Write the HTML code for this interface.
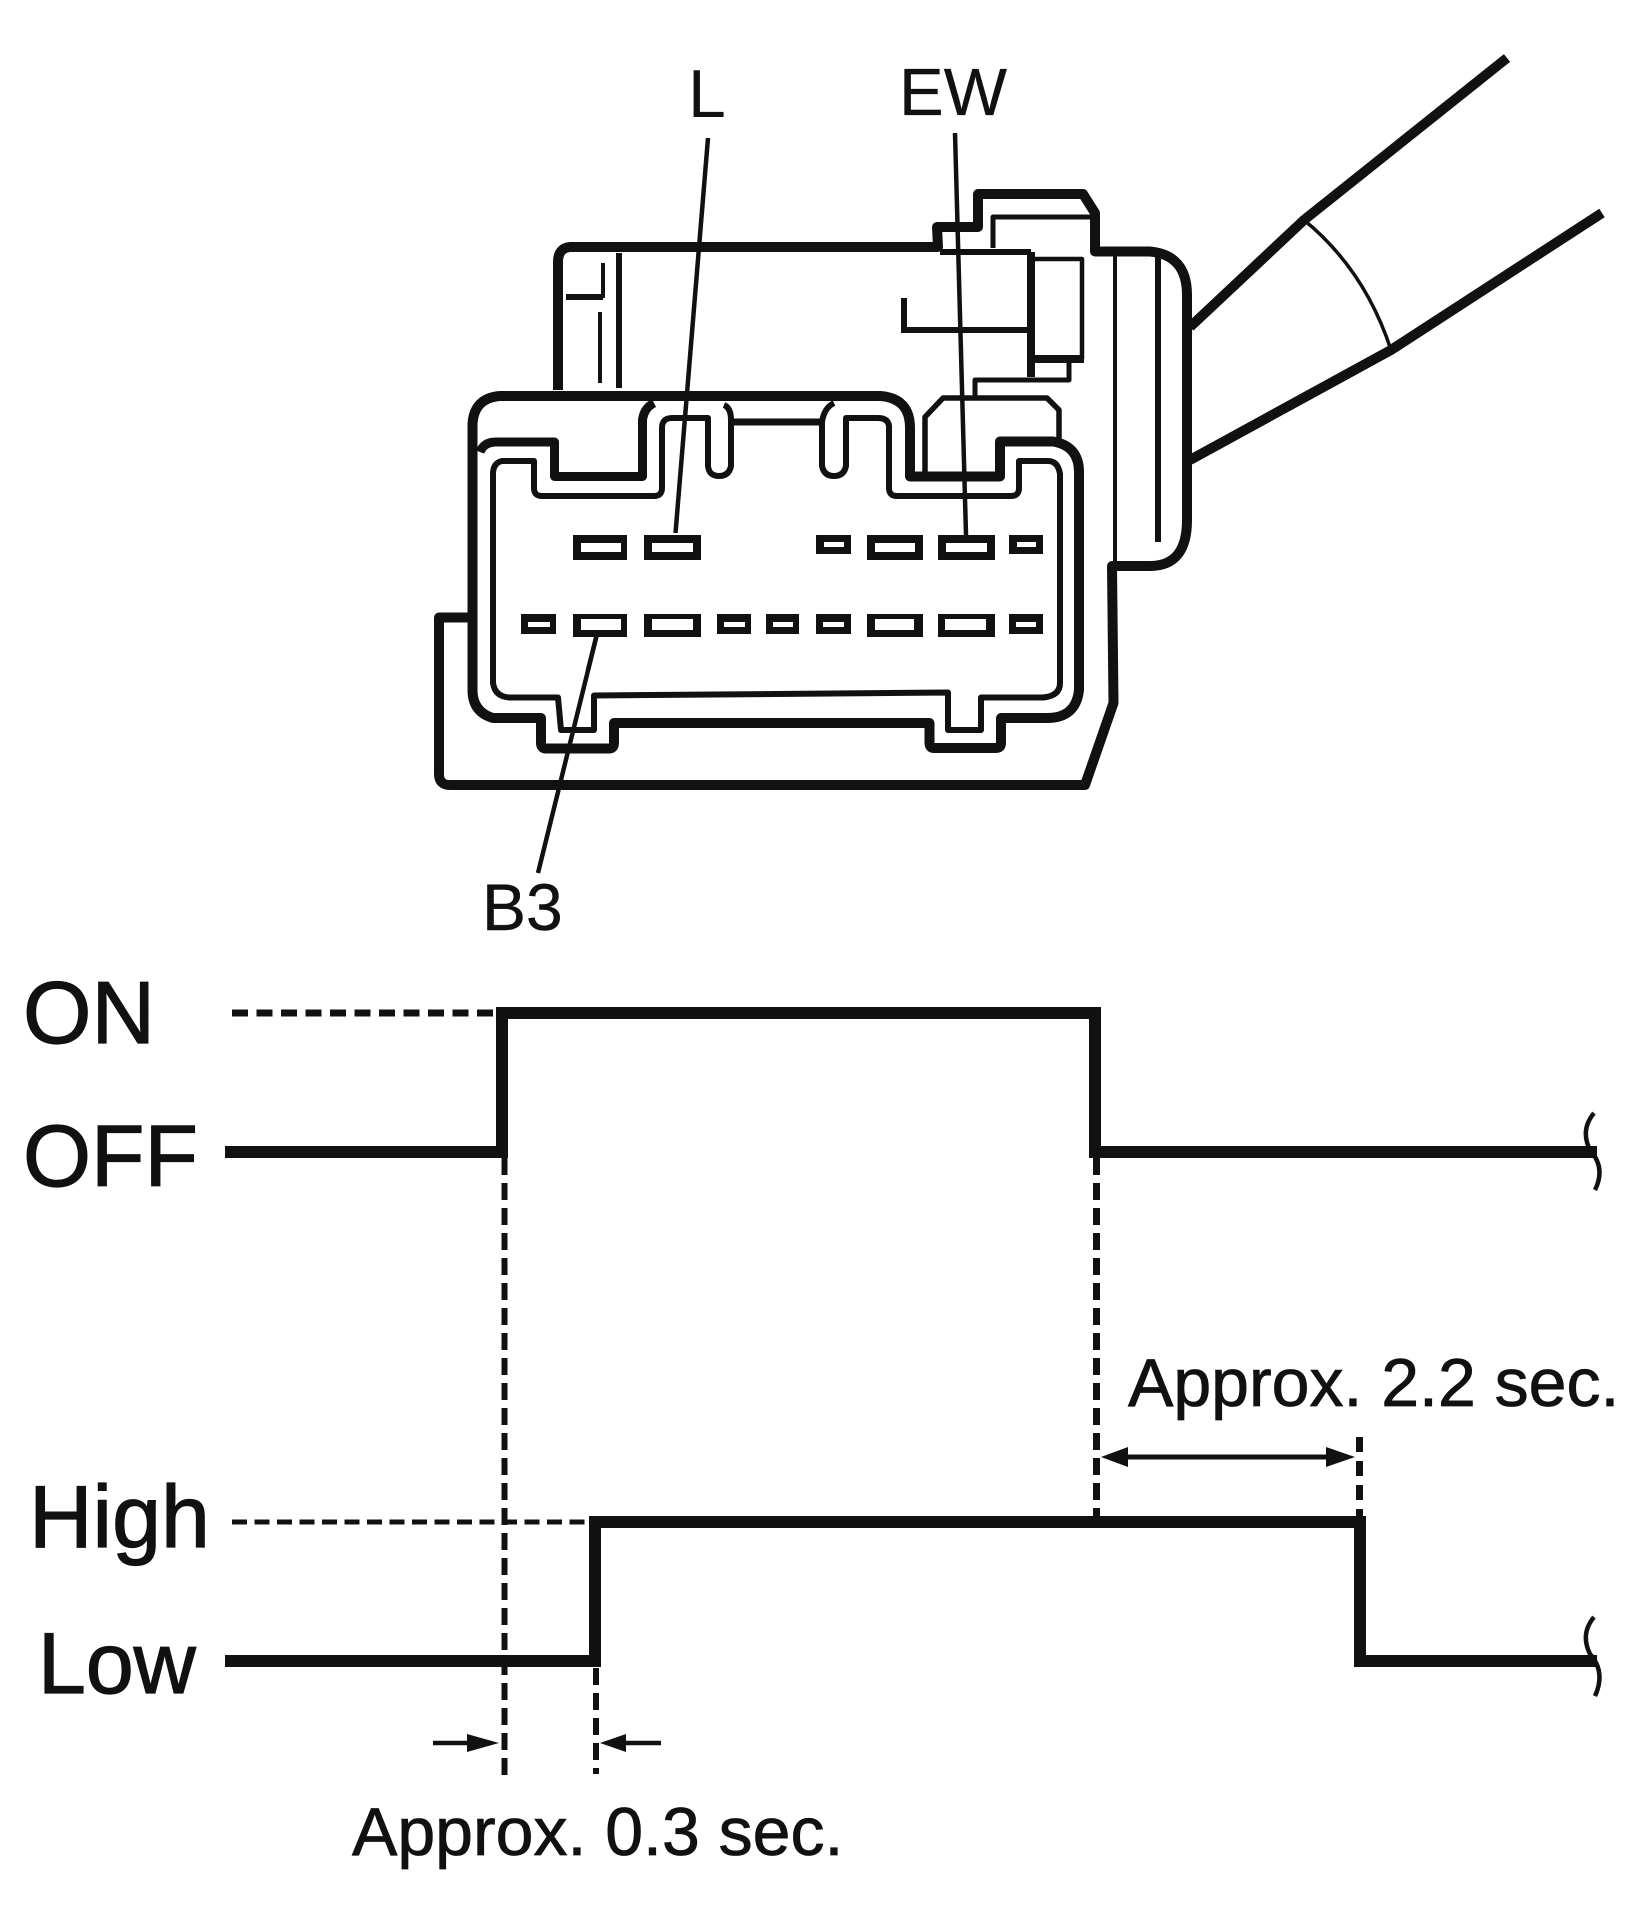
<!DOCTYPE html>
<html><head><meta charset="utf-8"><style>
html,body{margin:0;padding:0;background:#fff}
svg{display:block}
text{font-family:"Liberation Sans",Arial,sans-serif;fill:#111;stroke:#111}
</style></head><body>
<svg width="1648" height="1916" viewBox="0 0 1648 1916" xmlns="http://www.w3.org/2000/svg">
<rect width="1648" height="1916" fill="#fff"/>
<g fill="none" stroke="#111" stroke-linejoin="round" stroke-linecap="butt">
<!-- arms -->
<path d="M1507 58 L1304 220 L1190 327" stroke-width="10"/>
<path d="M1602 213 L1391 350 L1190 460" stroke-width="10"/>
<path d="M1304 220 Q1365 270 1391 350" stroke-width="3.5"/>
<!-- housing top -->
<path d="M558 390 L558 262 Q558 248 570 247 L938 247 L937 227 L978 227 L978 194 L1083 194 L1095 213 L1095 251.5 L1150 251.5 Q1187 255 1187 295 L1187 520 Q1187 566 1150 566 L1112 566 L1113.5 703 L1085 785 L450 785 Q439 785 439 774 L439 617.5 L471 617.5" stroke-width="10"/>
<path d="M1115 256 V566" stroke-width="4"/>
<path d="M1158 256 V542" stroke-width="6"/>
<path d="M619 253 V388" stroke-width="6"/>
<path d="M603 263 V298" stroke-width="4"/>
<path d="M566 297 H603" stroke-width="6"/>
<path d="M600 312 V383" stroke-width="4"/>
<path d="M940 252 H1031" stroke-width="6"/>
<path d="M1031 252 V377" stroke-width="8"/>
<path d="M1031 259 H1082 V359" stroke-width="4.5"/>
<path d="M1031 359 H1084" stroke-width="8"/>
<path d="M1069 359 V380 H975 V398" stroke-width="5"/>
<path d="M993 248 V217 H1095" stroke-width="5"/>
<path d="M904 298 V330" stroke-width="6"/>
<path d="M901 330 H1031" stroke-width="6"/>
<!-- connector shell -->
<path d="M500 396 L880 396 Q910 398 910 428 L910 476.5 L1000 476.5 L1000 441.5 L1053 441.5 Q1079 446 1079 472 L1079 690 Q1076 718 1047 718 L1001 718 L1001 743 Q1001 748 996 748 L934 748 Q929.5 748 929.5 743 L929.5 723 L614 723 L614 743 Q614 748.5 609 748.5 L546 748.5 Q541 748.5 541 743 L541 718 L493 718 Q472.5 712 472.5 690 L472.5 424 Q474 398 500 396 Z" stroke-width="10"/>
<path d="M480 452 Q484 442 496 442 L554.5 442 L554.5 476.5 L642.5 476.5 L642.5 420 Q644 408 654 403" stroke-width="9"/>
<path d="M724 405 Q731 408 731 420 L731 466 Q729 476 719 476 Q709 476 708 466 L708 418 L672 418 Q662 418 662 428 L662 488 Q662 496 654 496 L542 496 Q534 496 534 488 L534 461 L502 461 Q493 463 493 474 L493 683 Q495 697 510 697.5 L558 697.5 L561 730 L594 730 L594 695.5 L948 692.5 L948 730 L981 730 L981 697.5 L1043 697.5 Q1060 696 1060 683 L1060 474 Q1058 461 1048 461 L1019 461 L1019 488 Q1019 496 1011 496 L897 496 Q889 496 889 488 L889 426 Q888 418 878 418 L846 418 L846 466 Q844 476 834 476 Q824 476 822 466 L822 422 Q824 408 834 403" stroke-width="6"/>
<path d="M732 422 H822" stroke-width="7"/>
<path d="M925 476 V417 L943 398 H1047 L1059 410 V441" stroke-width="5.5"/>
<!-- leaders -->
<path d="M708 138 L675.5 533" stroke-width="4.5"/>
<path d="M955 133 L966 535" stroke-width="4.5"/>
<path d="M597 634 L538 873" stroke-width="4.5"/>
<!-- waveforms -->
<path d="M225 1152 H502 V1013 H1095 V1152 H1597" stroke-width="12" stroke-linejoin="miter"/>
<path d="M225 1661 H595 V1522 H1360 V1661 H1597" stroke-width="12" stroke-linejoin="miter"/>
<!-- dashed -->
<path d="M232 1013 H497" stroke-width="7" stroke-dasharray="16 8.5"/>
<path d="M232 1522 H590" stroke-width="5" stroke-dasharray="15 7.5"/>
<path d="M504.5 1158 V1778" stroke-width="6" stroke-dasharray="17 8"/>
<path d="M596 1668 V1774" stroke-width="6" stroke-dasharray="17 8"/>
<path d="M1096.5 1158 V1521" stroke-width="7" stroke-dasharray="17 8"/>
<path d="M1359.5 1437 V1517" stroke-width="7" stroke-dasharray="15 9"/>
<!-- dimension arrows -->
<path d="M433 1743 H475 M626 1743 H661" stroke-width="4.5"/>
<path d="M1120 1457 H1335" stroke-width="5"/>
<!-- squiggles -->
<path d="M1594 1113 Q1580 1130 1590 1150 Q1606 1168 1595 1190" stroke-width="4.5"/>
<path d="M1594 1617 Q1580 1634 1590 1654 Q1606 1672 1595 1696" stroke-width="4.5"/>
</g>
<!-- terminals: outer black, inner white -->
<g fill="#111">
<rect x="573" y="535" width="54" height="25"/><rect x="644" y="535" width="57" height="25"/>
<rect x="867" y="535" width="56" height="25"/><rect x="938" y="535" width="57" height="25"/>
<rect x="816" y="535" width="35" height="19"/><rect x="1009" y="535" width="34" height="19"/>
<rect x="573" y="614" width="54" height="23"/><rect x="644" y="614" width="57" height="23"/>
<rect x="867" y="614" width="56" height="23"/><rect x="938" y="614" width="57" height="23"/>
<rect x="521" y="614" width="35" height="20"/><rect x="717" y="614" width="34" height="20"/>
<rect x="766" y="614" width="33" height="20"/><rect x="816" y="614" width="35" height="20"/>
<rect x="1009" y="614" width="34" height="20"/>
</g>
<g fill="#fff">
<rect x="581" y="543" width="40" height="9"/><rect x="652" y="543" width="41" height="9"/>
<rect x="875" y="543" width="40" height="9"/><rect x="946" y="543" width="41" height="9"/>
<rect x="824" y="542" width="20" height="5"/><rect x="1017" y="542" width="19" height="5"/>
<rect x="581" y="619" width="40" height="11"/><rect x="652" y="619" width="41" height="11"/>
<rect x="875" y="619" width="39" height="11"/><rect x="945" y="619" width="41" height="11"/>
<rect x="528" y="622" width="22" height="5"/><rect x="724" y="622" width="21" height="5"/>
<rect x="773" y="622" width="20" height="5"/><rect x="823" y="622" width="21" height="5"/>
<rect x="1016" y="622" width="20" height="5"/>
</g>
<path d="M597 634 L588 670" stroke="#111" stroke-width="4.5" fill="none"/>
<g fill="#111">
<polygon points="467,1734 499,1743 467,1752"/>
<polygon points="600,1743 626,1734 626,1752"/>
<polygon points="1101,1457 1128,1447 1128,1467"/>
<polygon points="1355,1457 1326,1447 1326,1467"/>
</g>
<text x="688" y="117" font-size="68" stroke-width="0">L</text>
<text x="899" y="115" font-size="67" stroke-width="0.3">EW</text>
<text x="482" y="930" font-size="66" stroke-width="0.4">B3</text>
<text x="23" y="1043" font-size="88" stroke-width="1.2">ON</text>
<text x="23" y="1186" font-size="87.5" stroke-width="1.2">OFF</text>
<text x="29" y="1547" font-size="88" stroke-width="1.2">High</text>
<text x="38" y="1693" font-size="86" stroke-width="1.2">Low</text>
<text x="352" y="1855" font-size="68" stroke-width="0.8">Approx. 0.3 sec.</text>
<text x="1128" y="1406" font-size="68" stroke-width="0.8">Approx. 2.2 sec.</text>
</svg>
</body></html>
